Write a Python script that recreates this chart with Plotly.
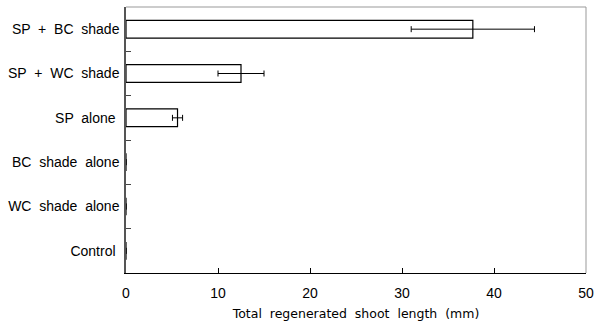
import plotly.graph_objects as go

# Treatments (top to bottom) with mean shoot length and error (mm)
treatments = ["SP + BC shade", "SP + WC shade", "SP alone",
              "BC shade alone", "WC shade alone", "Control"]
shoot_length = [37.7, 12.5, 5.6, 0.0, 0.0, 0.0]
shoot_error = [6.7, 2.5, 0.55, 0.0, 0.0, 0.0]
x_ticks = [0, 10, 20, 30, 40, 50]
# trailing padding used by the shorter labels
label_pad = ["", "", " ", "", "", " "]

labels = [t.replace(" ", "  ") + p for t, p in zip(treatments, label_pad)]

fig = go.Figure(go.Bar(
    x=shoot_length,
    y=labels,
    orientation="h",
    width=0.4,
    marker=dict(color="white", line=dict(color="black", width=1.2)),
    error_x=dict(type="data", array=shoot_error, visible=True,
                 color="black", thickness=1, width=3),
))

font = dict(family="Liberation Sans, Arial, sans-serif", size=14, color="black")

fig.update_layout(
    width=603, height=327,
    margin=dict(l=126, r=17, t=7, b=54),
    paper_bgcolor="white", plot_bgcolor="white",
    font=font,
    showlegend=False,
    xaxis=dict(
        range=[0, 50], tickvals=x_ticks, ticks="inside", ticklen=5,
        tickcolor="black", showline=True, linecolor="black", linewidth=1,
        showgrid=False, zeroline=False, ticklabelstandoff=7,
        title=dict(text="Total  regenerated  shoot  length  (mm)", standoff=9,
                   font=dict(family="DejaVu Sans, sans-serif", size=12.5)),
    ),
    yaxis=dict(
        categoryorder="array", categoryarray=labels[::-1],
        ticks="inside", tickson="boundaries", ticklen=5, tickcolor="#444",
        showline=True, linecolor="#555", linewidth=1.5,
        showgrid=False, zeroline=False, ticklabelstandoff=2,
    ),
    shapes=[
        dict(type="line", xref="paper", yref="paper", x0=0, x1=1, y0=1, y1=1,
             line=dict(color="#999", width=1)),
        dict(type="line", xref="paper", yref="paper", x0=1, x1=1, y0=0, y1=1,
             line=dict(color="#999", width=1)),
    ],
)

fig.write_html("out.html")
